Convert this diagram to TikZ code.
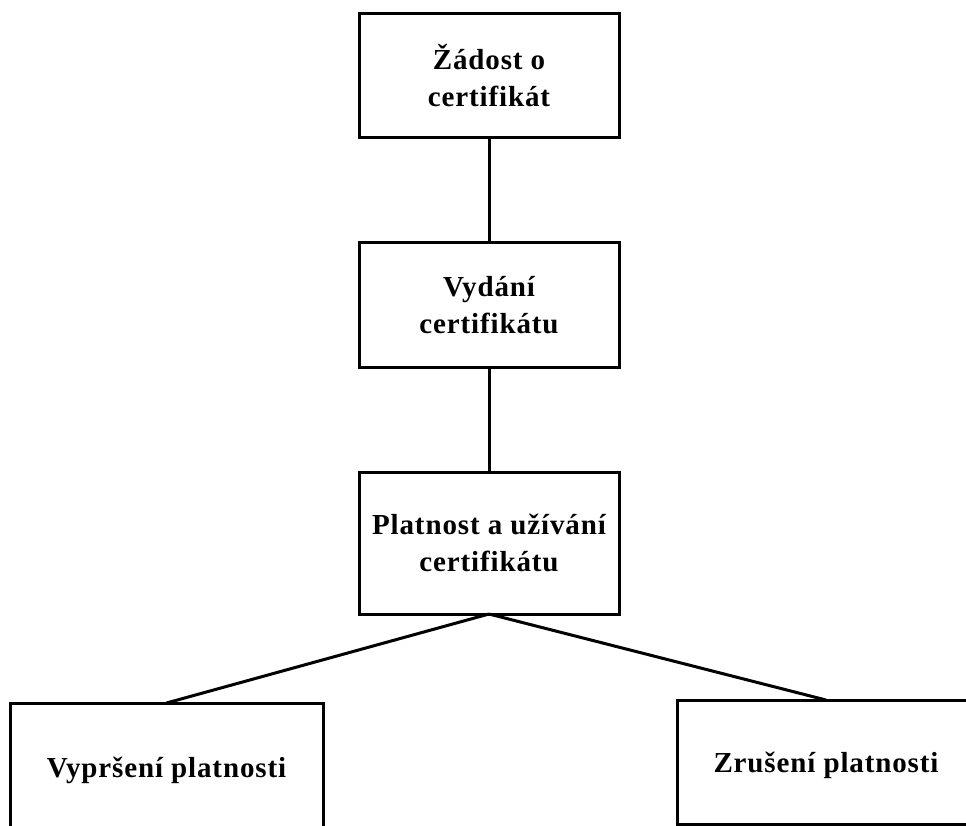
\documentclass[tikz,border=0pt]{standalone}
\usepackage{fontspec}
\setmainfont{Liberation Serif}
\newfontfamily\stagefont[LetterSpace=3]{Liberation Serif}
\begin{document}
\begin{tikzpicture}[x=1pt,y=-1pt,
  stagetext/.style={font=\stagefont\bfseries\fontsize{29}{37}\selectfont},
  stage/.style={stagetext, draw=black, line width=3pt, fill=white, inner sep=0pt, outer sep=0pt,
    align=center},
  link/.style={draw=black, line width=3pt}]
  \useasboundingbox (0,0) rectangle (966,826);
  \clip (0,0) rectangle (966,826);
  % lifecycle of a certificate
  \node[stage, minimum width=260pt, minimum height=124pt] (request) at (489,76) {Žádost o\\certifikát};
  \node[stage, minimum width=260pt, minimum height=125pt] (issue) at (489,305) {Vydání\\certifikátu};
  \node[stage, minimum width=260pt, minimum height=142pt] (valid) at (489,543) {Platnost a užívání\\certifikátu};
  \node[stage, minimum width=313pt, minimum height=140pt] (expire) at (166.5,773) {};
  \node[stagetext] (expiretext) at (166.5,770) {Vypršení platnosti};
  \node[stage, minimum width=298pt, minimum height=124pt] (revoke) at (826,762) {};
  \node[stagetext] (revoketext) at (826,765) {Zrušení platnosti};
  \draw[link] (request.south) -- (issue.north);
  \draw[link] (issue.south) -- (valid.north);
  \draw[link] (valid.south) -- (expire.north);
  \draw[link] (valid.south) -- (revoke.north);
\end{tikzpicture}
\end{document}
